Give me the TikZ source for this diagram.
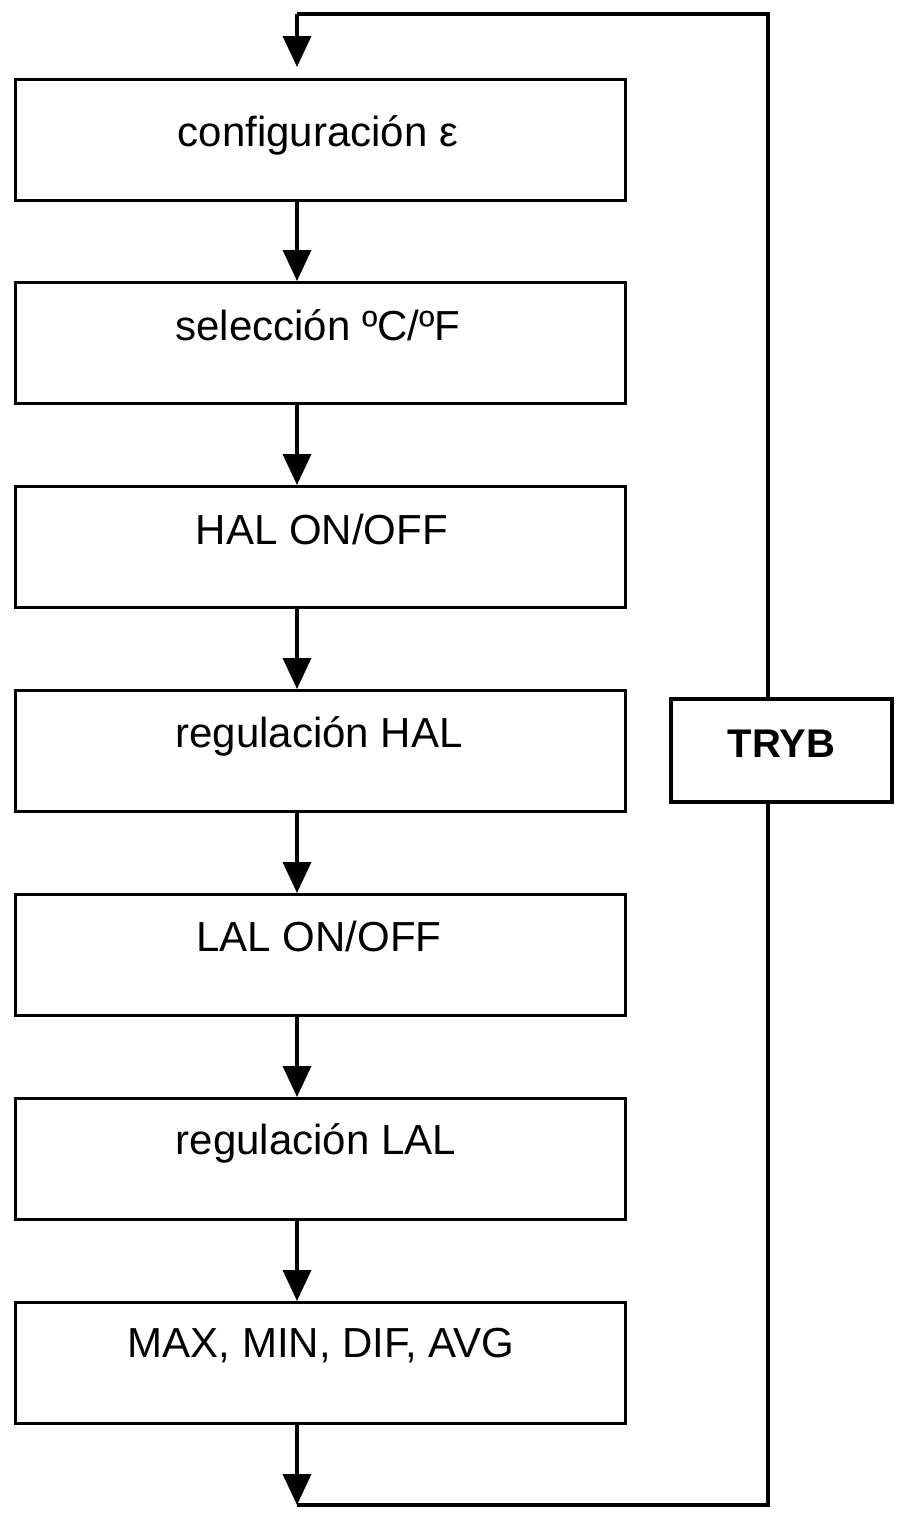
\documentclass[tikz,border=0pt]{standalone}
\usepackage{fontspec}
\setmainfont{Liberation Sans}
\usetikzlibrary{arrows.meta}
\begin{document}
\begin{tikzpicture}[x=1pt,y=-1pt,
  stepbox/.style={draw=black, line width=2.6pt, minimum width=610pt, minimum height=121pt, anchor=north west, inner sep=0pt},
  steptext/.style={anchor=base, inner sep=0pt, font=\fontsize{42}{50}\selectfont},
  modebox/.style={draw=black, line width=3.8pt, minimum width=221pt, minimum height=103pt, inner sep=0pt},
  conn/.style={line width=3.6pt, line join=miter},
  arr/.style={conn, -{Triangle[length=31pt,width=28pt]}}]
\useasboundingbox (0,0) rectangle (901,1515);

\node[stepbox] (b1) at (14,78) {};
\node[stepbox] (b2) at (14,281) {};
\node[stepbox] (b3) at (14,485) {};
\node[stepbox] (b4) at (14,689) {};
\node[stepbox] (b5) at (14,893) {};
\node[stepbox] (b6) at (14,1097) {};
\node[stepbox] (b7) at (14,1301) {};

\node[steptext] (t1) at (318,146) {configuración ε};
\node[steptext] (t2) at (318,340) {selección ºC/ºF};
\node[steptext] (t3) at (322,544) {HAL ON/OFF};
\node[steptext] (t4) at (319,747) {regulación HAL};
\node[steptext] (t5) at (319,951) {LAL ON/OFF};
\node[steptext] (t6) at (316,1154) {regulación LAL};
\node[steptext] (t7) at (321,1357) {MAX, MIN, DIF, AVG};

\node[modebox] (tryb) at (781.5,750.5) {};
\node[anchor=base, inner sep=0pt, font=\fontsize{40}{48}\selectfont\bfseries] (tt) at (781.5,757) {TRYB};

\coordinate (top) at (297,14);
\coordinate (entry) at (297,67);
\coordinate (bottom) at (297,1505);
\coordinate (ne) at (768,14);
\coordinate (se) at (768,1505);

\draw[arr] (top) -- (entry);
\draw[arr] (b1.south -| top) -- (b2.north -| top);
\draw[arr] (b2.south -| top) -- (b3.north -| top);
\draw[arr] (b3.south -| top) -- (b4.north -| top);
\draw[arr] (b4.south -| top) -- (b5.north -| top);
\draw[arr] (b5.south -| top) -- (b6.north -| top);
\draw[arr] (b6.south -| top) -- (b7.north -| top);
\draw[arr] (b7.south -| top) -- (bottom);
\draw[conn] (bottom) -- (se) -- (tryb.south -| se);
\draw[conn] (tryb.north -| ne) -- (ne) -- (top);
\end{tikzpicture}
\end{document}
